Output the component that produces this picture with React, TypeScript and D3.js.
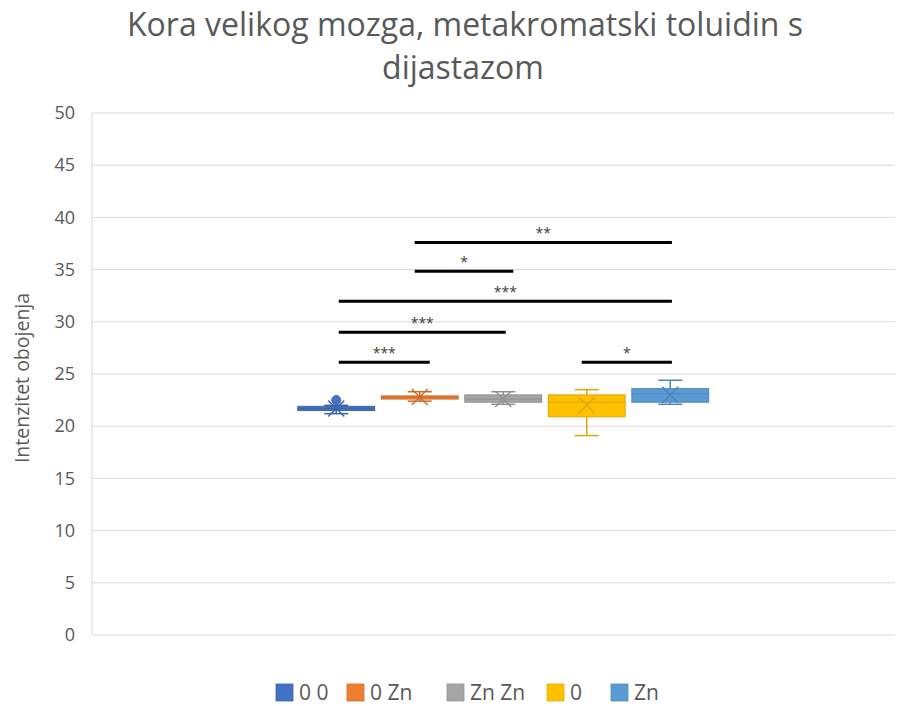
import { useRef, useEffect } from 'react';
import * as d3 from 'd3';

const seriesNames = ['0 0', '0 Zn', 'Zn Zn', '0', 'Zn'];
const minValues = [21.2, 22.4, 22.1, 19.1, 22.1];
const q1Values = [21.5, 22.6, 22.3, 20.9, 22.3];
const medianValues = [21.7, 22.8, 22.6, 22.3, 23.1];
const q3Values = [21.9, 22.9, 23.0, 23.0, 23.6];
const maxValues = [22.0, 23.3, 23.3, 23.5, 24.4];
const meanValues = [21.7, 22.8, 22.6, 22.0, 23.0];
const outlierValues = [[22.5], [], [], [], []];

// significance bars, from/to in box index units
const sigFrom = [0.94, 0.94, 0.03, 0.03, 0.03, 2.94];
const sigTo = [4.02, 2.12, 4.02, 2.03, 1.12, 4.02];
const sigLevel = [37.6, 34.85, 31.97, 29.0, 26.13, 26.13];
const sigLabel = ['**', '*', '***', '***', '***', '*'];

const yTicks = [0, 5, 10, 15, 20, 25, 30, 35, 40, 45, 50];

const palette = ['#4472C4', '#ED7D31', '#A5A5A5', '#FFC000', '#5B9BD5'];

function App() {
  const svgRef = useRef<SVGSVGElement | null>(null);
  const width = 909;
  const height = 706;

  useEffect(() => {
    const svg = d3.select(svgRef.current);
    svg.selectAll('*').remove();
    const font = "'Open Sans', sans-serif";
    const textColor = '#595959';
    const plot = { left: 92, right: 895, top: 113, bottom: 635 };

    const y = d3.scaleLinear().domain([0, 50]).range([plot.bottom, plot.top]);
    const x = d3
      .scaleBand()
      .domain(seriesNames)
      .range([294.5, 712])
      .paddingInner(0.08)
      .paddingOuter(0.04);
    const center = (i: number) => (x(seriesNames[i]) as number) + x.bandwidth() / 2;
    const pos = d3
      .scaleLinear()
      .domain([0, seriesNames.length - 1])
      .range([center(0), center(seriesNames.length - 1)]);

    // title
    const title = svg
      .append('text')
      .attr('text-anchor', 'middle')
      .attr('fill', textColor)
      .style('font-family', font)
      .style('font-size', '32px');
    title.append('tspan').attr('x', 465).attr('y', 36).text('Kora velikog mozga, metakromatski toluidin s');
    title.append('tspan').attr('x', 463).attr('y', 79).text('dijastazom');

    // grid
    svg
      .append('g')
      .selectAll('line')
      .data(yTicks)
      .join('line')
      .attr('x1', plot.left)
      .attr('x2', plot.right)
      .attr('y1', (d) => y(d))
      .attr('y2', (d) => y(d))
      .attr('stroke', '#d9d9d9')
      .attr('stroke-width', 1);

    svg
      .append('line')
      .attr('x1', plot.left)
      .attr('x2', plot.left)
      .attr('y1', plot.top)
      .attr('y2', plot.bottom)
      .attr('stroke', '#d9d9d9');

    const yAxis = svg
      .append('g')
      .attr('transform', `translate(${plot.left},0)`)
      .call(d3.axisLeft(y).tickValues(yTicks).tickSize(0).tickPadding(17));
    yAxis.select('.domain').remove();
    yAxis
      .selectAll('text')
      .attr('fill', textColor)
      .style('font-family', font)
      .style('font-size', '18px');

    svg
      .append('text')
      .attr('transform', `translate(29,${378}) rotate(-90)`)
      .attr('text-anchor', 'middle')
      .attr('fill', textColor)
      .style('font-family', font)
      .style('font-size', '19.5px')
      .text('Intenzitet obojenja');

    // boxes
    const bw = x.bandwidth();
    const capHalf = 12;
    const boxes = svg
      .append('g')
      .selectAll('g')
      .data(seriesNames)
      .join('g');

    boxes.each(function (_, i) {
      const g = d3.select(this);
      const cx = center(i);
      const fill = palette[i];
      const stroke = d3.color(fill)!.darker(0.4).formatHex();

      g.append('line')
        .attr('x1', cx)
        .attr('x2', cx)
        .attr('y1', y(maxValues[i]))
        .attr('y2', y(minValues[i]))
        .attr('stroke', stroke)
        .attr('stroke-width', 1.5);
      [minValues[i], maxValues[i]].forEach((v) => {
        g.append('line')
          .attr('x1', cx - capHalf)
          .attr('x2', cx + capHalf)
          .attr('y1', y(v))
          .attr('y2', y(v))
          .attr('stroke', stroke)
          .attr('stroke-width', 1.5);
      });
      g.append('rect')
        .attr('x', x(seriesNames[i]) as number)
        .attr('width', bw)
        .attr('y', y(q3Values[i]))
        .attr('height', y(q1Values[i]) - y(q3Values[i]))
        .attr('fill', fill)
        .attr('stroke', stroke)
        .attr('stroke-width', 1);
      g.append('line')
        .attr('x1', x(seriesNames[i]) as number)
        .attr('x2', (x(seriesNames[i]) as number) + bw)
        .attr('y1', y(medianValues[i]))
        .attr('y2', y(medianValues[i]))
        .attr('stroke', stroke)
        .attr('stroke-width', 1);
      const m = 8;
      const my = y(meanValues[i]);
      g.append('path')
        .attr('d', `M${cx - m},${my - m}L${cx + m},${my + m}M${cx - m},${my + m}L${cx + m},${my - m}`)
        .attr('stroke', stroke)
        .attr('stroke-width', 1.5)
        .attr('fill', 'none');
      outlierValues[i].forEach((v) => {
        g.append('circle')
          .attr('cx', cx)
          .attr('cy', y(v))
          .attr('r', 4.5)
          .attr('fill', fill)
          .attr('stroke', stroke);
      });
    });

    // significance bars
    const sig = svg.append('g');
    sigLevel.forEach((lvl, k) => {
      const x1 = pos(sigFrom[k]);
      const x2 = pos(sigTo[k]);
      sig
        .append('line')
        .attr('x1', x1)
        .attr('x2', x2)
        .attr('y1', y(lvl))
        .attr('y2', y(lvl))
        .attr('stroke', '#000')
        .attr('stroke-width', 3);
      sig
        .append('text')
        .attr('x', (x1 + x2) / 2)
        .attr('y', y(lvl) - 4)
        .attr('text-anchor', 'middle')
        .attr('fill', '#404040')
        .style('font-family', font)
        .style('font-size', '14px')
        .text(sigLabel[k]);
    });

    // legend
    const legendX = [299, 370, 470, 570, 634];
    const legend = svg.append('g');
    seriesNames.forEach((name, i) => {
      legend
        .append('rect')
        .attr('x', legendX[i] - 23)
        .attr('y', 684)
        .attr('width', 17)
        .attr('height', 17)
        .attr('fill', palette[i])
        .attr('stroke', d3.color(palette[i])!.darker(0.3).formatHex())
        .attr('stroke-width', 0.8);
      legend
        .append('text')
        .attr('x', legendX[i])
        .attr('y', 700)
        .attr('fill', textColor)
        .style('font-family', font)
        .style('font-size', '21px')
        .text(name);
    });
  }, []);

  return (
    <svg
      ref={svgRef}
      width={width}
      height={height}
      style={{ position: 'absolute', left: 0, top: 0, background: '#fff', display: 'block' }}
    />
  );
}

export default App;
